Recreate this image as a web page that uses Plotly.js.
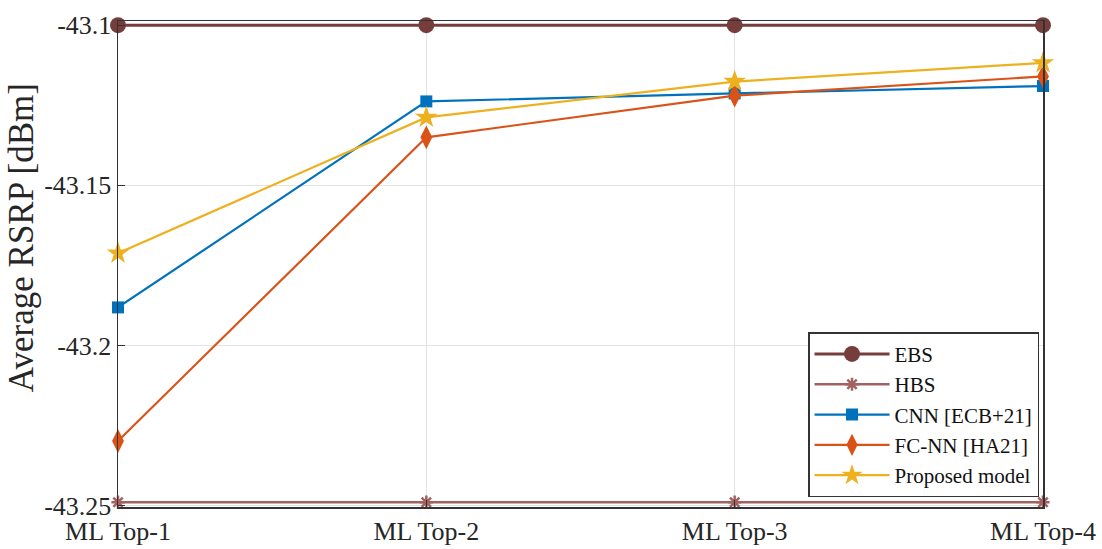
<!DOCTYPE html>
<html>
<head>
<meta charset="utf-8">
<script src="https://cdn.plot.ly/plotly-3.0.1.min.js"></script>
<style>html,body{margin:0;padding:0;background:#fff;}#chart{width:1102px;height:549px;}</style>
</head>
<body>
<div id="chart"></div>
<script>
const categories = ["ML Top-1", "ML Top-2", "ML Top-3", "ML Top-4"];
const seriesNames = ["EBS", "HBS", "CNN [ECB+21]", "FC-NN [HA21]", "Proposed model"];
const ebs = [-43.1, -43.1, -43.1, -43.1];
const hbs = [-43.2489, -43.2489, -43.2489, -43.2489];
const cnn = [-43.1881, -43.1238, -43.1213, -43.1190];
const fcnn = [-43.2298, -43.1350, -43.1220, -43.1160];
const proposed = [-43.1712, -43.1288, -43.1176, -43.1118];
const yTickVals = [-43.25, -43.2, -43.15, -43.1];
const yTitle = "Average RSRP [dBm]";

const xPos = categories.map((c, i) => i + 1);
const font = "'Liberation Serif', 'Times New Roman', serif";

function tr(name, y, color, symbol, size, lineW, extra) {
  return Object.assign({
    type: "scatter", mode: "lines+markers", name: name,
    x: xPos, y: y, cliponaxis: false,
    line: {color: color, width: lineW},
    marker: {color: color, symbol: symbol, size: size}
  }, extra || {});
}

const traces = [
  tr(seriesNames[0], ebs, "#763D3D", "circle", 16, 3),
  tr(seriesNames[1], hbs, "#A26262", "asterisk-open", 11, 2.5, {marker: {color: "#A26262", symbol: "asterisk-open", size: 11, line: {color: "#A26262", width: 2.5}}}),
  tr(seriesNames[2], cnn, "#0072BD", "square", 12, 2.2),
  tr(seriesNames[3], fcnn, "#D95319", "diamond-tall", 17, 2.2),
  tr(seriesNames[4], proposed, "#EDB120", "star", 17, 2.2)
];

const layout = {
  width: 1102, height: 549,
  margin: {l: 118, r: 59, t: 21, b: 42},
  paper_bgcolor: "#fff", plot_bgcolor: "#fff",
  font: {family: font, color: "#262626", size: 26},
  showlegend: true,
  xaxis: {
    range: [1, 4], tickvals: xPos, ticktext: categories,
    showgrid: true, gridcolor: "#E3E3E3", gridwidth: 1,
    showline: true, linecolor: "#333", linewidth: 1.5, mirror: true,
    ticks: "inside", ticklen: 7, tickcolor: "#333",
    zeroline: false, tickfont: {family: font, size: 26, color: "#262626"}
  },
  yaxis: {
    range: [-43.2504, -43.0987], tickvals: yTickVals, ticktext: yTickVals.map(v => String(v)),
    showgrid: true, gridcolor: "#E3E3E3", gridwidth: 1,
    showline: true, linecolor: "#333", linewidth: 1.5, mirror: true,
    ticks: "inside", ticklen: 7, tickcolor: "#333",
    zeroline: false, tickfont: {family: font, size: 26, color: "#262626"}
  },
  annotations: [{
    text: yTitle, xref: "paper", yref: "paper", x: -0.105, y: 0.555,
    xanchor: "center", yanchor: "middle", textangle: -90, showarrow: false,
    font: {family: font, size: 35, color: "#262626"}
  }],
  legend: {
    x: 0.9957, xanchor: "right", y: 0.02, yanchor: "bottom",
    bgcolor: "#fff", bordercolor: "#333", borderwidth: 1.5,
    font: {family: font, size: 21, color: "#111"},
    tracegroupgap: 0, itemwidth: 75
  }
};

Plotly.newPlot("chart", traces, layout, {displayModeBar: false, staticPlot: true});
</script>
</body>
</html>
